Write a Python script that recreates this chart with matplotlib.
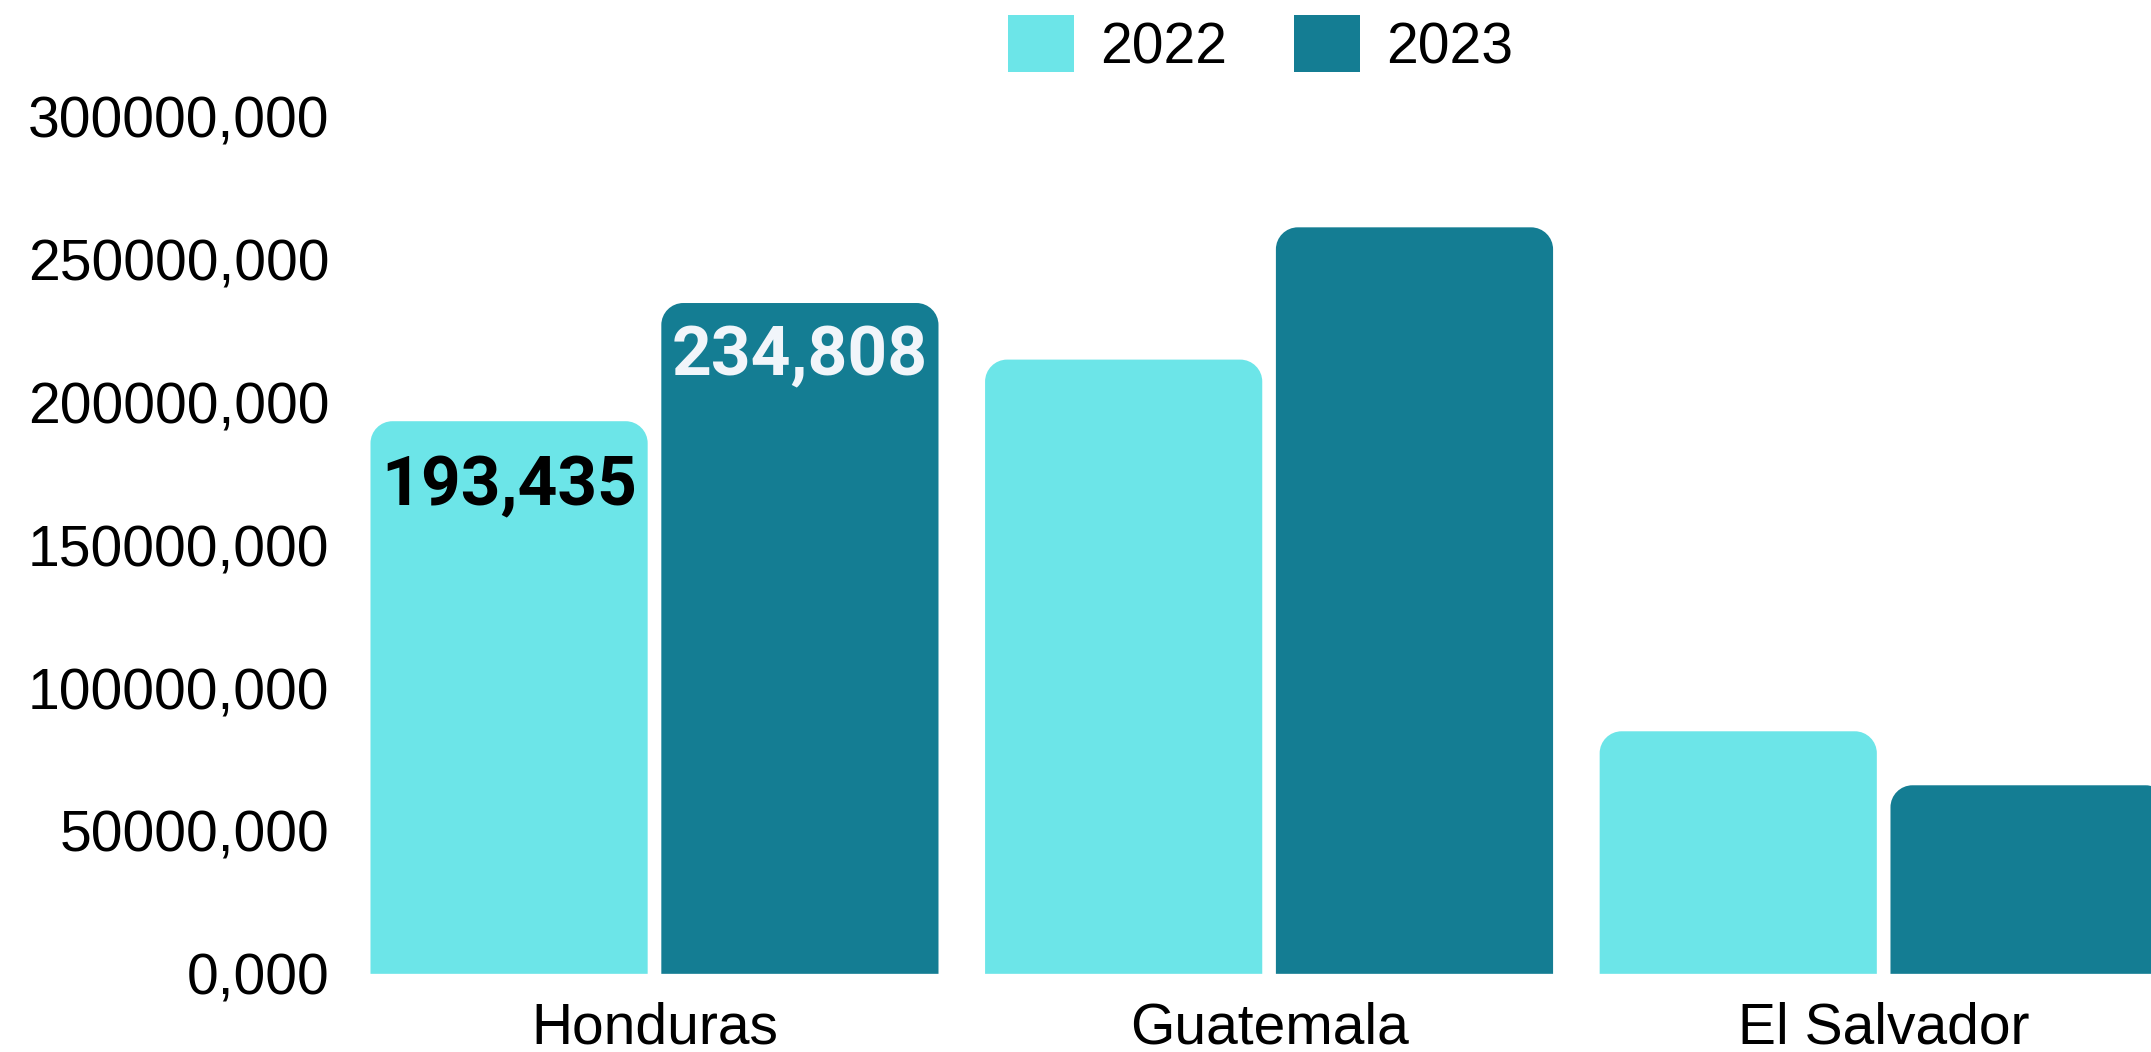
import matplotlib
matplotlib.use("Agg")
import matplotlib.pyplot as plt
import numpy as np
from matplotlib.path import Path
from matplotlib.patches import PathPatch, Patch
from matplotlib.ticker import FuncFormatter

paises = ["Honduras", "Guatemala", "El Salvador"]
anos = ["2022", "2023"]
valores_2022 = [193435, 215000, 84900]
valores_2023 = [234808, 261300, 66000]
rotulos = {(0, 0): "193,435", (0, 1): "234,808"}
y_ticks = [0, 50000, 100000, 150000, 200000, 250000, 300000]

cor_2022 = "#6CE5E8"
cor_2023 = "#147D93"

plt.rcParams["font.family"] = ["Liberation Sans", "DejaVu Sans"]


def barra_arredondada(ax, bar, raio_px):
    # troca o retangulo por um caminho com cantos de cima arredondados
    x0 = bar.get_x()
    x1 = x0 + bar.get_width()
    h = bar.get_height()
    p0 = ax.transData.transform((0, 0))
    p1 = ax.transData.transform((1, 1))
    rx = raio_px / (p1[0] - p0[0])
    ry = raio_px / (p1[1] - p0[1])
    k = 0.5523
    verts = [
        (x0, 0), (x0, h - ry),
        (x0, h - ry + k * ry), (x0 + rx - k * rx, h), (x0 + rx, h),
        (x1 - rx, h),
        (x1 - rx + k * rx, h), (x1, h - ry + k * ry), (x1, h - ry),
        (x1, 0), (x0, 0),
    ]
    codes = [Path.MOVETO, Path.LINETO,
             Path.CURVE4, Path.CURVE4, Path.CURVE4,
             Path.LINETO,
             Path.CURVE4, Path.CURVE4, Path.CURVE4,
             Path.LINETO, Path.CLOSEPOLY]
    patch = PathPatch(Path(verts, codes), facecolor=bar.get_facecolor(),
                      edgecolor="none", clip_on=True)
    ax.add_patch(patch)
    bar.set_visible(False)


fig = plt.figure(figsize=(21.51, 10.52), dpi=100)
ax = fig.add_axes([0.1557, 0.0743, 0.8443, 0.8147])

x = np.arange(len(paises))
largura = 0.451
desloc = 0.2366

barras_a = ax.bar(x - desloc, valores_2022, largura, color=cor_2022, label=anos[0])
barras_b = ax.bar(x + desloc, valores_2023, largura, color=cor_2023, label=anos[1])

ax.set_xlim(-0.52, 2.435)
ax.set_ylim(0, 300000)
ax.set_yticks(y_ticks)
ax.yaxis.set_major_formatter(FuncFormatter(lambda v, p: f"{v:.0f},000"))
ax.set_xticks(x)
ax.set_xticklabels(paises)
ax.tick_params(axis="y", length=0, pad=4, labelsize=41)
ax.tick_params(axis="x", length=0, pad=20, labelsize=41)
for s in ax.spines.values():
    s.set_visible(False)

for grupo in (barras_a, barras_b):
    for b in grupo:
        barra_arredondada(ax, b, 22)

# rotulos so nas barras de Honduras
desl_rotulo = {(0, 0): -66, (0, 1): -54}
cores_rotulo = ["black", "#F1F5FA"]
for (i, serie), txt in rotulos.items():
    b = (barras_a, barras_b)[serie][i]
    ax.annotate(txt, (b.get_x() + b.get_width() / 2, b.get_height()),
                xytext=(0, desl_rotulo[(i, serie)]), textcoords="offset pixels",
                ha="center", va="center", fontsize=50, fontweight="bold",
                family=["Roboto", "DejaVu Sans"], color=cores_rotulo[serie])

handles = [Patch(facecolor=cor_2022, label=anos[0]),
           Patch(facecolor=cor_2023, label=anos[1])]
fig.legend(handles=handles, loc="center", bbox_to_anchor=(0.586, 0.957),
           ncol=2, frameon=False, fontsize=41, handlelength=1.16,
           handleheight=1.16, handletextpad=0.46, columnspacing=1.16)

fig.savefig("out.png", dpi=100)
